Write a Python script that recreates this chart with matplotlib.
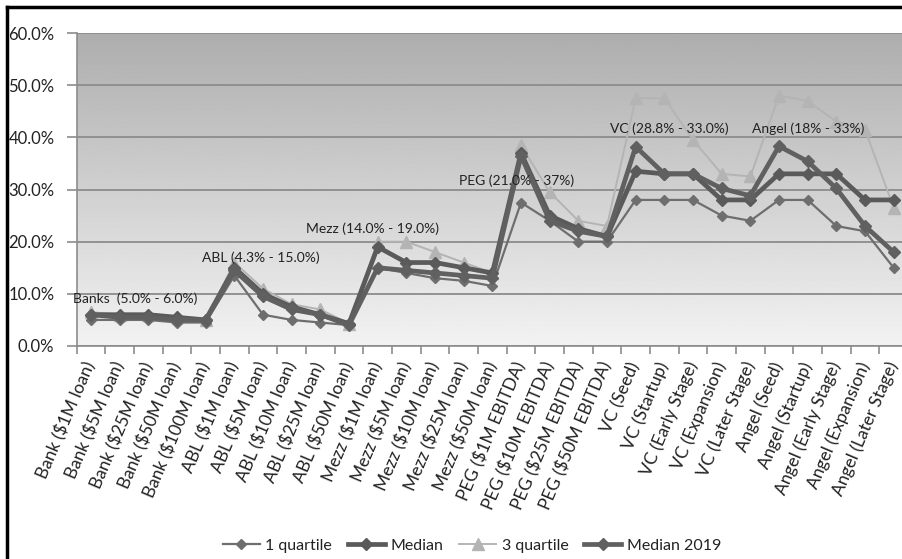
import numpy as np
import matplotlib
matplotlib.use("Agg")
import matplotlib.pyplot as plt
import matplotlib.transforms as mtransforms
from matplotlib.lines import Line2D

plt.rcParams['font.family'] = ['Lato', 'DejaVu Sans']

categories = [
    "Bank ($1M loan)", "Bank ($5M loan)", "Bank ($25M loan)", "Bank ($50M loan)", "Bank ($100M loan)",
    "ABL ($1M loan)", "ABL ($5M loan)", "ABL ($10M loan)", "ABL ($25M loan)", "ABL ($50M loan)",
    "Mezz ($1M loan)", "Mezz ($5M loan)", "Mezz ($10M loan)", "Mezz ($25M loan)", "Mezz ($50M loan)",
    "PEG ($1M EBITDA)", "PEG ($10M EBITDA)", "PEG ($25M EBITDA)", "PEG ($50M EBITDA)",
    "VC (Seed)", "VC (Startup)", "VC (Early Stage)", "VC (Expansion)", "VC (Later Stage)",
    "Angel (Seed)", "Angel (Startup)", "Angel (Early Stage)", "Angel (Expansion)", "Angel (Later Stage)",
]

# required returns, percent
quartile_1 = [5.0, 5.0, 5.0, 4.5, 4.5,
              13.5, 6.0, 5.0, 4.5, 4.0,
              15.0, 14.0, 13.0, 12.5, 11.5,
              27.5, 24.0, 20.0, 20.0,
              28.0, 28.0, 28.0, 25.0, 24.0,
              28.0, 28.0, 23.0, 22.0, 15.0]
median = [6.0, 6.0, 6.0, 5.5, 5.0,
          15.0, 10.0, 7.5, 6.0, 4.3,
          19.0, 16.0, 16.0, 15.0, 14.0,
          37.0, 25.0, 22.5, 21.0,
          33.5, 33.0, 33.0, 28.0, 28.0,
          33.0, 33.0, 33.0, 28.0, 28.0]
quartile_3 = [6.5, 6.0, 6.0, 5.5, 5.0,
              16.0, 11.0, 8.0, 7.0, 4.3,
              20.0, 20.0, 18.0, 16.0, 14.0,
              38.5, 29.5, 24.0, 23.0,
              47.5, 47.5, 39.5, 33.0, 32.5,
              48.0, 47.0, 43.0, 41.5, 26.5]
median_2019 = [6.0, 5.5, 5.5, 5.0, 5.0,
               14.5, 9.5, 7.0, 6.0, 4.0,
               15.0, 14.5, 14.0, 13.5, 13.0,
               36.5, 24.0, 22.0, 21.0,
               38.2, 33.0, 33.0, 30.2, 28.8,
               38.3, 35.4, 30.2, 23.0, 18.0]

group_labels = ["Banks  (5.0% - 6.0%)", "ABL (4.3% - 15.0%)", "Mezz (14.0% - 19.0%)",
                "PEG (21.0% - 37%)", "VC (28.8% - 33.0%)", "Angel (18% - 33%)"]
group_label_x = [-0.63, 3.87, 7.5, 12.84, 18.1, 23.06]
group_label_y = [9.0, 17.0, 22.4, 31.7, 41.7, 41.7]

x = np.arange(len(categories))

fig = plt.figure(figsize=(9.02, 5.59), dpi=100)
ax = fig.add_axes([76.7 / 902, 1 - 346 / 559, (908 - 76.7) / 902, (346 - 33) / 559])

# shaded plot background, dark at the top fading to light
grad = np.linspace(0.95, 0.68, 256).reshape(-1, 1)
ax.imshow(grad, extent=[0, 1, 0, 1], transform=ax.transAxes, cmap='gray',
          vmin=0, vmax=1, aspect='auto', origin='lower', zorder=0)

ax.set_xlim(-0.5, len(categories) - 0.5)
ax.set_ylim(0, 60)
ax.set_yticks(np.arange(0, 61, 10))
ax.set_yticklabels([f"{v:.1f}%" for v in np.arange(0, 61, 10)])
ax.yaxis.grid(True, color='#8c8c8c', lw=1.3, zorder=1)
ax.set_axisbelow(True)

ax.plot(x, quartile_1, color='#6e6e6e', lw=1.6, marker='D', ms=5.5, zorder=3)
ax.plot(x, median, color='#5a5a5a', lw=3.4, marker='D', ms=6.5, zorder=4)
ax.plot(x, quartile_3, color='#b4b4b4', lw=1.4, marker='^', ms=8, zorder=2)
ax.plot(x, median_2019, color='#606060', lw=3.4, marker='D', ms=6.5, zorder=4)

for lbl, lx, ly in zip(group_labels, group_label_x, group_label_y):
    ax.text(lx, ly, lbl, fontsize=10, color='#222222', ha='left', va='center', zorder=5)

# ticks sit between categories on the x axis
ax.set_xticks(np.arange(len(categories) + 1) - 0.5, minor=False)
ax.set_xticklabels([])
ax.set_xticks(x, minor=True)
ax.set_xticklabels(categories, minor=True, rotation=67, ha='right', va='center',
                   rotation_mode='anchor', fontsize=12.5, color='#222222')
shift = mtransforms.ScaledTranslation(5 / 100, 0, fig.dpi_scale_trans)
for lab in ax.get_xticklabels(minor=True):
    lab.set_transform(lab.get_transform() + shift)
ax.tick_params(axis='x', which='major', length=6, color='#8c8c8c', width=1.2)
ax.tick_params(axis='x', which='minor', length=0, pad=12)
ax.tick_params(axis='y', length=7, color='#8c8c8c', width=1.2, labelsize=12,
               labelcolor='#222222', pad=9)
for side in ['top', 'right']:
    ax.spines[side].set_visible(False)
for side in ['left', 'bottom']:
    ax.spines[side].set_color('#8c8c8c')
    ax.spines[side].set_linewidth(1.2)

handles = [
    Line2D([], [], color='#6e6e6e', lw=1.6, marker='D', ms=5),
    Line2D([], [], color='#5a5a5a', lw=3.4, marker='D', ms=6),
    Line2D([], [], color='#b4b4b4', lw=1.4, marker='^', ms=8),
    Line2D([], [], color='#606060', lw=3.4, marker='D', ms=6),
]
fig.legend(handles, ["1 quartile", "Median", "3 quartile", "Median 2019"],
           loc='center', bbox_to_anchor=(472 / 902, 1 - 546 / 559), ncol=4,
           frameon=False, fontsize=11.5, handlelength=2.3, columnspacing=1.0,
           handletextpad=0.35, labelcolor='#222222')

# outline on the left and top edges of the figure
fig.add_artist(Line2D([7 / 902, 7 / 902], [0, 1 - 7 / 559], transform=fig.transFigure,
                      color='black', lw=2.5))
fig.add_artist(Line2D([7 / 902, 1], [1 - 7 / 559, 1 - 7 / 559], transform=fig.transFigure,
                      color='black', lw=2.5))

fig.savefig("out.png", dpi=100)
